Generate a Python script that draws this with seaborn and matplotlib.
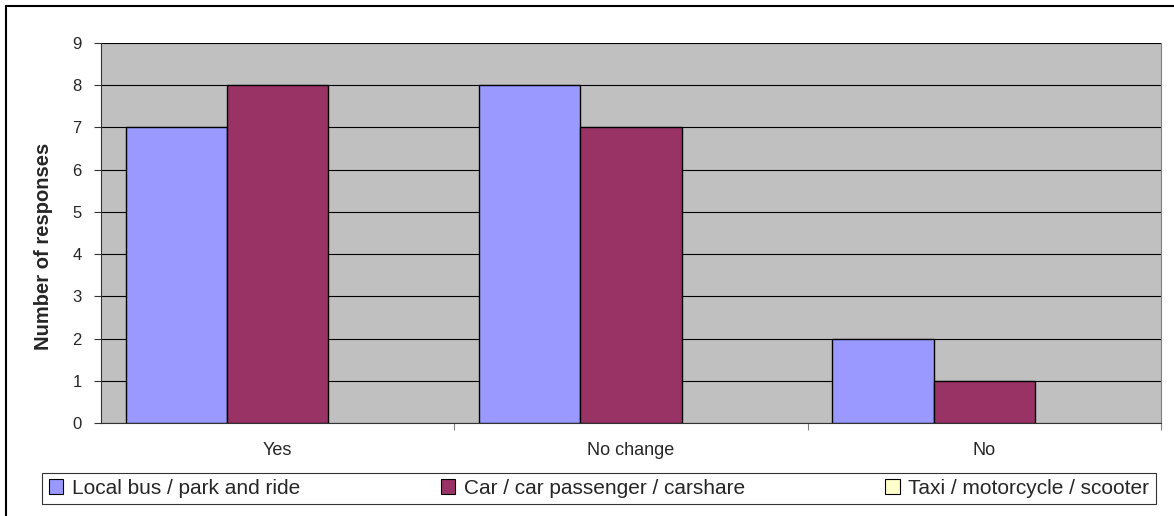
import pandas as pd
import matplotlib.pyplot as plt
import seaborn as sns
from matplotlib.patches import Rectangle
from matplotlib.lines import Line2D

# Data
answers = ['Yes', 'No change', 'No']
modes = ['Local bus / park and ride', 'Car / car passenger / carshare', 'Taxi / motorcycle / scooter']
local_bus = [7, 8, 2]
car = [8, 7, 1]
taxi = [0, 0, 0]
colors = ['#9999FF', '#993366', '#FFFFCC']

df = pd.DataFrame({
    'answer': answers * 3,
    'mode': [modes[0]] * 3 + [modes[1]] * 3 + [modes[2]] * 3,
    'count': local_bus + car + taxi,
})

sns.set_style('white')
plt.rcParams['font.family'] = ['Liberation Sans', 'DejaVu Sans']

fig = plt.figure(figsize=(11.74, 5.16), dpi=100)
ax = fig.add_axes([101 / 1174, 93 / 516, 1060 / 1174, 380 / 516])
ax.set_facecolor('#C0C0C0')

sns.barplot(data=df, x='answer', y='count', hue='mode', order=answers, hue_order=modes,
            palette=colors, width=0.86, edgecolor='black', linewidth=1, saturation=1,
            ax=ax, legend=False, zorder=3)
# empty bars leave no outline
for p in ax.patches:
    if p.get_height() == 0:
        p.set_linewidth(0)

ax.set_ylim(0, 9)
ax.set_xlim(-0.5, 2.5)
ax.set_yticks(range(10))
ax.yaxis.grid(True, color='black', linewidth=0.8, zorder=0)
ax.set_axisbelow(True)
ax.set_xlabel('')
ax.set_ylabel('Number of responses', fontsize=14.5, fontweight='bold')
ax.yaxis.set_label_coords(-0.054, 0.4645)
ax.yaxis.label.set_verticalalignment('center')
ax.tick_params(axis='y', length=5, width=0.8, labelsize=12, pad=9, direction='out', left=True, color='#333333')
ax.tick_params(axis='x', which='major', length=0, labelsize=13, pad=14)
ax.set_xticks([0.5, 1.5, 2.5], minor=True)
ax.tick_params(axis='x', which='minor', length=5, width=0.8, bottom=True, color='#808080')
ax.spines['top'].set_visible(False)
ax.spines['right'].set_color('#808080')
ax.spines['right'].set_linewidth(0.8)
ax.spines['left'].set_color('#333333')
ax.spines['bottom'].set_color('#333333')

handles = [Rectangle((0, 0), 1, 1, facecolor=c, edgecolor='black', linewidth=0.8) for c in colors]
leg = fig.legend(handles, modes, loc='center', ncol=3, mode='expand',
                 bbox_to_anchor=(32 / 1174, 11 / 516, 1134 / 1174, 33 / 516),
                 fontsize=15, frameon=True, fancybox=False, edgecolor='black',
                 handlelength=0.7, handleheight=0.7, handletextpad=0.4, borderpad=0.3)
leg.get_frame().set_linewidth(0.8)

# outer chart border (only top and left edges fall inside the picture)
fig.add_artist(Line2D([6 / 1174, 1], [510 / 516, 510 / 516], transform=fig.transFigure,
                      color='black', linewidth=1.5))
fig.add_artist(Line2D([6 / 1174, 6 / 1174], [0, 510 / 516], transform=fig.transFigure,
                      color='black', linewidth=1.5))

fig.savefig('out.png', dpi=100, facecolor='white')
